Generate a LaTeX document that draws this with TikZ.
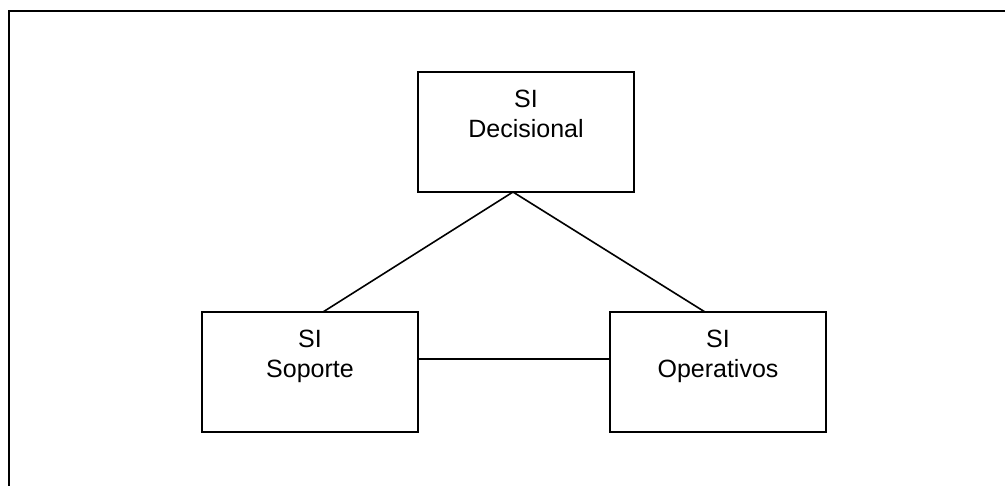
\documentclass[tikz,border=0pt]{standalone}
\usepackage{fontspec}
\setmainfont{Liberation Sans}
\begin{document}
\begin{tikzpicture}[x=1pt,y=-1pt,
  line width=1.8pt,
  sibox/.style={draw=black, rectangle, minimum width=216pt, minimum height=120pt,
                inner sep=0pt, outer sep=0pt},
  sitext/.style={anchor=north, align=center, inner sep=0pt,
                 font=\fontsize{25}{30.5}\selectfont},
  link/.style={draw=black, line width=1.6pt}]
  \useasboundingbox (0,0) rectangle (1005,486);
  % outer frame (only its top and left sides fall inside the page)
  \draw[line width=2pt] (9,487) -- (9,11) -- (1006,11);

  % the three information systems
  \node[sibox] (dec) at (526,132) {};
  \node[sibox] (sop) at (310,372) {};
  \node[sibox] (ope) at (718,372) {};

  \node[sitext] (decT) at ([yshift=-17pt]dec.north) {SI\\Decisional};
  \node[sitext] (sopT) at ([yshift=-17pt]sop.north) {SI\\Soporte};
  \node[sitext] (opeT) at ([yshift=-17pt]ope.north) {SI\\Operativos};

  % connections
  \coordinate (apex) at ([xshift=-13pt]dec.south);
  \draw[link] (apex) -- ([xshift=13pt]sop.north);
  \draw[link] (apex) -- ([xshift=-13pt]ope.north);
  \draw[link] ([yshift=13pt]sop.east) -- ([yshift=13pt]ope.west);
\end{tikzpicture}
\end{document}
